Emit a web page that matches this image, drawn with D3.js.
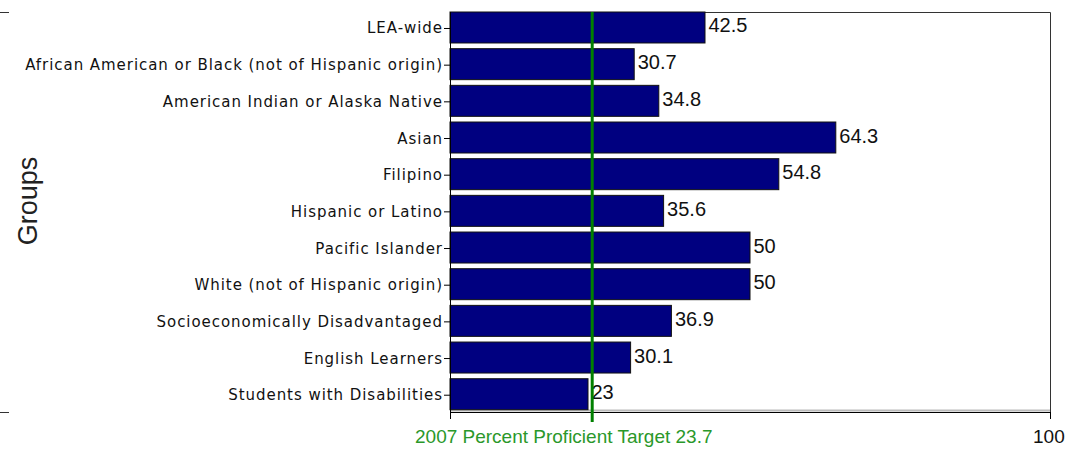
<!DOCTYPE html>
<html>
<head>
<meta charset="utf-8">
<script src="https://cdn.jsdelivr.net/npm/d3@7"></script>
<style>
  body { margin: 0; background: #fff; }
  .cat { font-family: "DejaVu Sans", sans-serif; font-size: 15px; letter-spacing: 0.95px; fill: #111; }
  .val { font-family: "Liberation Sans", Arial, sans-serif; font-size: 20px; fill: #111; }
  .foot { font-family: "Liberation Sans", Arial, sans-serif; font-size: 19px; }
</style>
</head>
<body>
<svg id="chart" width="1065" height="449"></svg>
<script>
var groups = [
  "LEA-wide",
  "African American or Black (not of Hispanic origin)",
  "American Indian or Alaska Native",
  "Asian",
  "Filipino",
  "Hispanic or Latino",
  "Pacific Islander",
  "White (not of Hispanic origin)",
  "Socioeconomically Disadvantaged",
  "English Learners",
  "Students with Disabilities"
];
var percents = [42.5, 30.7, 34.8, 64.3, 54.8, 35.6, 50, 50, 36.9, 30.1, 23];
var target = 23.7;
var targetLabel = "2007 Percent Proficient Target 23.7";

var svg = d3.select("#chart");

var plotLeft = 450, plotRight = 1050, plotTop = 12, plotBottom = 412;

var xScale = d3.scaleLinear().domain([0, 100]).range([plotLeft, plotRight]);
var yScale = d3.scaleBand().domain(groups).range([plotTop, 409.7]).paddingInner(0.155).paddingOuter(0);

// plot frame (top + right)
svg.append("path")
   .attr("d", "M" + plotLeft + "," + (plotTop + 0.5) + "H" + (plotRight + 0.5) + "V" + plotBottom)
   .attr("fill", "none")
   .attr("stroke", "#333")
   .attr("stroke-width", 1);

// faint strip under the last bar
svg.append("line")
   .attr("x1", plotLeft).attr("x2", plotRight)
   .attr("y1", plotBottom - 1.5).attr("y2", plotBottom - 1.5)
   .attr("stroke", "#bbb").attr("stroke-width", 2);

// bars
svg.selectAll(".bar")
   .data(percents)
   .enter().append("rect")
   .attr("class", "bar")
   .attr("x", xScale(0))
   .attr("y", function(d, i) { return yScale(groups[i]); })
   .attr("width", function(d) { return xScale(d) - xScale(0); })
   .attr("height", yScale.bandwidth())
   .attr("fill", "#000080")
   .attr("stroke", "#111")
   .attr("stroke-width", 1);

// value labels
svg.selectAll(".val")
   .data(percents)
   .enter().append("text")
   .attr("class", "val")
   .attr("x", function(d) { return xScale(d) + 3.5; })
   .attr("y", function(d, i) { return yScale(groups[i]) + yScale.bandwidth() / 2 - 2; })
   .attr("dy", "0.35em")
   .text(function(d) { return d; });

// y axis (ticks sit a touch below bar centres, like the original)
var yAxis = d3.axisLeft(yScale).tickSize(6).tickPadding(1).offset(2);
var yg = svg.append("g").attr("transform", "translate(" + plotLeft + ",0)").call(yAxis);
yg.attr("font-family", null).attr("font-size", null);
yg.select(".domain").attr("d", "M0.5," + plotTop + "V" + (plotBottom + 6)).attr("stroke", "#000");
yg.selectAll(".tick line").attr("stroke", "#000").attr("transform", "translate(0,1)");
yg.selectAll(".tick text").attr("class", "cat").attr("fill", null).attr("dy", "0.4em");

// x axis line with end ticks
var xg = svg.append("g").attr("transform", "translate(0," + plotBottom + ")");
xg.append("line").attr("x1", plotLeft).attr("x2", plotRight + 0.5).attr("y1", 0.5).attr("y2", 0.5).attr("stroke", "#000");
xg.selectAll(".xt")
  .data([0, 100])
  .enter().append("line")
  .attr("x1", function(d) { return xScale(d) + 0.5; })
  .attr("x2", function(d) { return xScale(d) + 0.5; })
  .attr("y1", 0).attr("y2", 7)
  .attr("stroke", "#000");

svg.append("text")
   .attr("class", "foot")
   .attr("x", xScale(100) - 17)
   .attr("y", 443)
   .attr("font-size", 20)
   .attr("fill", "#111")
   .text("100");

// target line
svg.append("line")
   .attr("x1", xScale(target)).attr("x2", xScale(target))
   .attr("y1", plotTop).attr("y2", plotBottom + 10)
   .attr("stroke", "#008000")
   .attr("stroke-width", 3);

svg.append("text")
   .attr("class", "foot")
   .attr("x", 415)
   .attr("y", 443)
   .attr("fill", "#2a982a")
   .text(targetLabel);

// axis title
svg.append("text")
   .attr("transform", "translate(37,201) rotate(-90)")
   .attr("text-anchor", "middle")
   .attr("font-family", "Liberation Sans, Arial, sans-serif")
   .attr("font-size", 27)
   .attr("fill", "#222")
   .text("Groups");

// small stray marks at the far left
svg.selectAll(".stray")
   .data([plotTop, plotBottom])
   .enter().append("line")
   .attr("x1", 0).attr("x2", 9)
   .attr("y1", function(d) { return d + 0.5; })
   .attr("y2", function(d) { return d + 0.5; })
   .attr("stroke", "#333");
</script>
</body>
</html>
